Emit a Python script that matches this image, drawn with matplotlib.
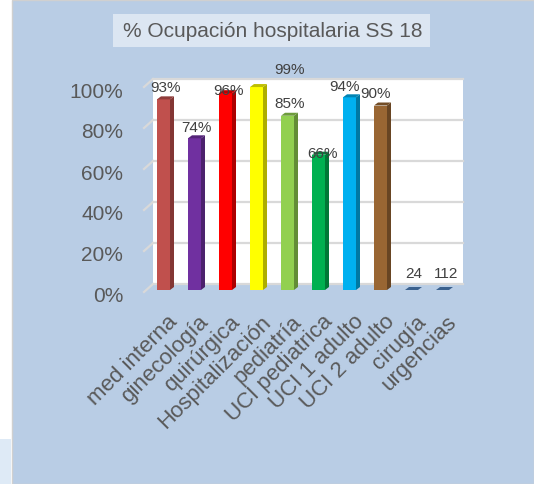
import matplotlib
matplotlib.use('Agg')
import matplotlib.pyplot as plt
import matplotlib.colors as mcolors
from matplotlib.patches import Rectangle, Polygon
from matplotlib.transforms import offset_copy
import numpy as np

plt.rcParams['font.family'] = ['Liberation Sans', 'DejaVu Sans']

title = '% Ocupación hospitalaria SS 18'
categories = ['med interna', 'ginecología', 'quirúrgica', 'Hospitalización', 'pediatría',
              'UCI pediatrica', 'UCI 1 adulto', 'UCI 2 adulto', 'cirugía', 'urgencias']
occupancy = [0.93, 0.74, 0.96, 0.99, 0.85, 0.66, 0.94, 0.90, 0.0, 0.0]
value_labels = ['93%', '74%', '96%', '99%', '85%', '66%', '94%', '90%', '24', '112']
y_ticks = [0, 0.2, 0.4, 0.6, 0.8, 1.0]
y_tick_labels = ['0%', '20%', '40%', '60%', '80%', '100%']
bar_colors = ['#C0504D', '#7030A0', '#FF0000', '#FFFF00', '#92D050',
              '#00B050', '#00B0F0', '#996633', '#4F81BD', '#4F81BD']
# labels were dragged around by hand in the original, offsets in pixels
label_offsets = [(2, 12), (2, 11), (3, 3), (33, 18), (2, 13),
                 (4, 2), (-5, 11), (-5, 12), (2, 17), (4, 17)]

W, H = 534, 485
fig = plt.figure(figsize=(W / 100, H / 100), dpi=100)
fig.patch.set_facecolor('white')


def fig_box(x0, y0, x1, y1, **kw):
    # box given in pixels from the top-left corner
    fig.patches.append(Rectangle((x0 / W, 1 - y1 / H), (x1 - x0) / W, (y1 - y0) / H,
                                 transform=fig.transFigure, zorder=-10, **kw))


fig_box(12, 1, W, H, fc='#B9CDE5', ec='#D0D0D0', lw=1)
fig_box(0, 440, 11, H, fc='#DEEAF6', ec='none')
fig_box(113, 15, 430, 48, fc='#DCE6F2', ec='none')
fig.text((113 + 432) / 2 / W, 1 - 31.5 / H, title, ha='center', va='center',
         fontsize=15, color='#595959')

ax = fig.add_axes([144 / W, 1 - 293 / H, 310 / W, 205 / H])
ax.set_xlim(-0.5, 9.5)
ax.set_ylim(0, 1)
ax.set_facecolor('none')
ax.set_frame_on(False)

PX = 10 / 310   # data units per pixel, x
PY = 1 / 205    # data units per pixel, y
wall_dx, wall_dy = 9 * PX, 8 * PY
bar_dx, bar_dy = 4 * PX, 2 * PY
depth_x, depth_y = 4 * PX, 3 * PY
bar_w = 13 * PX

# back wall + gridlines
ax.add_patch(Rectangle((-0.5 + wall_dx, wall_dy), 10, 1, fc='white', ec='none',
                       zorder=0, clip_on=False))
for t in y_ticks:
    ax.plot([-0.5 + wall_dx, 9.5 + wall_dx], [t + wall_dy] * 2, color='#D9D9D9',
            lw=1.6, zorder=1, clip_on=False)
    ax.plot([-0.5, -0.5 + wall_dx], [t, t + wall_dy], color='#D9D9D9',
            lw=1.6, zorder=1, clip_on=False)

x = np.arange(len(categories)) + bar_dx
ax.bar(x, occupancy, bar_w, bottom=bar_dy, color=bar_colors, linewidth=0, zorder=3)

for xi, v, c in zip(x, occupancy, bar_colors):
    rgb = np.array(mcolors.to_rgb(c))
    r = xi + bar_w / 2
    l = xi - bar_w / 2
    top = bar_dy + v
    side = [(r, bar_dy), (r + depth_x, bar_dy + depth_y), (r + depth_x, top + depth_y), (r, top)]
    lid = [(l, top), (r, top), (r + depth_x, top + depth_y), (l + depth_x, top + depth_y)]
    ax.add_patch(Polygon(side, closed=True, fc=rgb * 0.68, ec='none', zorder=3, clip_on=False))
    ax.add_patch(Polygon(lid, closed=True, fc=rgb * 0.75, ec='none', zorder=3, clip_on=False))

for xi, v, lbl, off in zip(x, occupancy, value_labels, label_offsets):
    ax.annotate(lbl, xy=(xi, bar_dy + v), xytext=off, textcoords='offset pixels',
                ha='center', va='center', fontsize=11, color='#404040', zorder=5,
                annotation_clip=False)

for xi, cat in zip(x, categories):
    ax.annotate(cat, xy=(xi, 0), xytext=(11, -26), textcoords='offset pixels',
                rotation=45, rotation_mode='anchor', ha='right', va='center',
                fontsize=16, color='#595959', annotation_clip=False)

ax.set_xticks([])
ax.set_yticks(y_ticks, y_tick_labels)
ax.tick_params(axis='y', length=0, pad=15, labelsize=15, labelcolor='#595959')
for tl in ax.get_yticklabels():
    tl.set_transform(offset_copy(tl.get_transform(), fig=fig, x=0, y=-2, units='dots'))

fig.savefig('out.png', dpi=100)
